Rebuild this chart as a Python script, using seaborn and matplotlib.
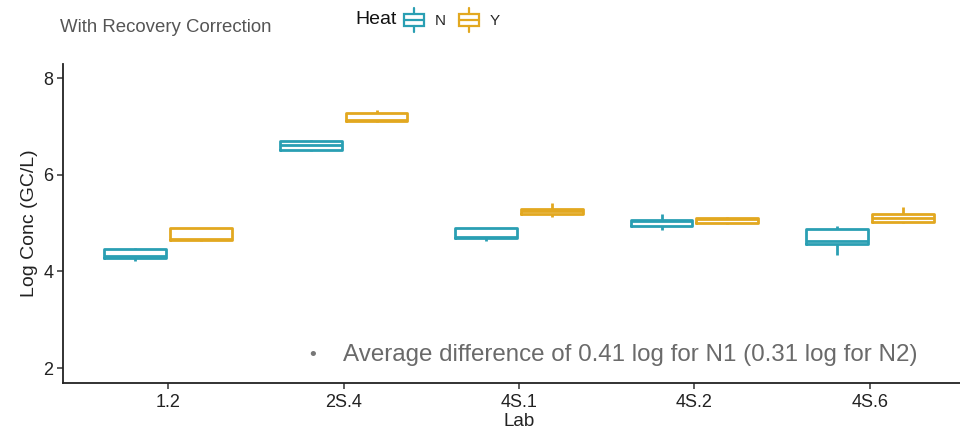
import numpy as np
import pandas as pd
import matplotlib
matplotlib.use("Agg")
import matplotlib.pyplot as plt
import seaborn as sns
from matplotlib.patches import Patch, Rectangle
from matplotlib.lines import Line2D
from matplotlib.legend_handler import HandlerBase

# ---- data (five-number summaries) ----
labs = ['1.2', '2S.4', '4S.1', '4S.2', '4S.6']
heat_levels = ['N', 'Y']

n_min = [4.21, 6.50, 4.62, 4.85, 4.33]
n_q1 = [4.27, 6.52, 4.68, 4.93, 4.56]
n_med = [4.31, 6.62, 4.72, 5.05, 4.62]
n_q3 = [4.47, 6.70, 4.89, 5.07, 4.87]
n_max = [4.49, 6.72, 4.90, 5.19, 4.93]

y_min = [4.63, 7.10, 5.13, 4.97, 5.01]
y_q1 = [4.64, 7.11, 5.18, 5.01, 5.03]
y_med = [4.66, 7.13, 5.24, 5.08, 5.11]
y_q3 = [4.89, 7.28, 5.30, 5.11, 5.19]
y_max = [4.90, 7.34, 5.42, 5.12, 5.34]

y_ticks = [2, 4, 6, 8]

title_text = "With Recovery Correction"
note_text = "Average difference of 0.41 log for N1 (0.31 log for N2)"

teal = "#2a9fb3"
gold = "#e2a820"
palette = {'N': teal, 'Y': gold}

rows = []
for i, lab in enumerate(labs):
    for v in (n_min[i], n_q1[i], n_med[i], n_q3[i], n_max[i]):
        rows.append((lab, 'N', v))
    for v in (y_min[i], y_q1[i], y_med[i], y_q3[i], y_max[i]):
        rows.append((lab, 'Y', v))
df = pd.DataFrame(rows, columns=['Lab', 'Heat', 'Conc'])

sns.set_theme(style="white")
plt.rcParams['font.family'] = ['Liberation Sans', 'DejaVu Sans']

W, H = 960, 438
fig = plt.figure(figsize=(W / 100, H / 100), dpi=100)
ax = fig.add_axes([63 / W, (H - 383) / H, (975 - 63) / W, (383 - 64) / H])

sns.boxplot(data=df, x='Lab', y='Conc', hue='Heat', order=labs, hue_order=heat_levels,
            palette=palette, fill=False, width=0.75, gap=0.06, linewidth=2,
            showfliers=False, legend=False, ax=ax, capwidths=0.0)

ax.set_xlim(-0.6, 4.6)
ax.set_ylim(1.69, 8.29)
ax.set_yticks(y_ticks)
ax.set_yticklabels([str(t) for t in y_ticks])
sns.despine(ax=ax)
for s in ('left', 'bottom'):
    ax.spines[s].set_color('#222222')
    ax.spines[s].set_linewidth(1.3)
ax.tick_params(axis='both', length=4, width=1.1, color='#333333',
               labelsize=13, labelcolor='#222222', pad=3, left=True, bottom=True)
ax.tick_params(axis='x', pad=4)
ax.set_xlabel('Lab', fontsize=13.5, color='#222222', labelpad=1)
ax.set_ylabel('Log Conc (GC/L)', fontsize=14, color='#222222', labelpad=4)

# title and note
fig.text(60 / W, 1 - 27 / H, title_text, fontsize=13.4, color='#555555',
         ha='left', va='center')
fig.text(313 / W, 1 - 355 / H, "\u2022", fontsize=14, color='#777777',
         ha='center', va='center')
fig.text(343 / W, 1 - 355 / H, note_text, fontsize=17.4, color='#6a6a6a',
         ha='left', va='center')


class BoxHandler(HandlerBase):
    def create_artists(self, legend, orig_handle, xdescent, ydescent,
                       width, height, fontsize, trans):
        c = orig_handle.get_edgecolor()
        x0, y0 = -xdescent, -ydescent
        arts = []
        bx0, bx1 = x0 + 0.05 * width, x0 + 0.95 * width
        by0, by1 = y0 + 0.25 * height, y0 + 0.75 * height
        arts.append(Rectangle((bx0, by0), bx1 - bx0, by1 - by0, facecolor='white',
                              edgecolor=c, linewidth=1.6, transform=trans))
        xm = x0 + width / 2
        arts.append(Line2D([bx0, bx1], [y0 + 0.5 * height] * 2, color=c, lw=1.6, transform=trans))
        arts.append(Line2D([xm, xm], [y0, by0], color=c, lw=1.6, transform=trans))
        arts.append(Line2D([xm, xm], [by1, y0 + height], color=c, lw=1.6, transform=trans))
        return arts


handles = [Patch(facecolor='white', edgecolor=palette[h]) for h in heat_levels]
fig.text(355 / W, 1 - 20 / H, 'Heat', fontsize=14, color='#111111', ha='left', va='center')
leg = fig.legend(handles, heat_levels, loc='center left', bbox_to_anchor=(403 / W, 1 - 20 / H),
                 ncol=2, frameon=False, fontsize=11, handlelength=1.45, handleheight=2.1,
                 handletextpad=0.6, columnspacing=0.85, borderaxespad=0, borderpad=0,
                 handler_map={Patch: BoxHandler()})

fig.savefig('out.png', dpi=100)
